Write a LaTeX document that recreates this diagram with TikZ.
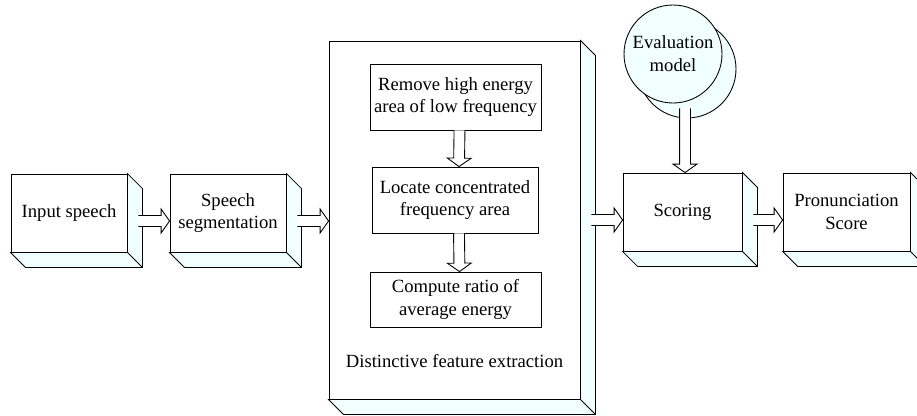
\documentclass[tikz,border=0pt]{standalone}
\usepackage{fontspec}
\setmainfont{Liberation Serif}
\usetikzlibrary{calc}
\definecolor{facecol}{HTML}{F2FFFF}
\tikzset{
    block/.style={draw, fill=white, align=center, inner sep=0pt, line width=.5pt},
    % open block arrow: two rails and a chevron head
    hollow/.style={line width=.5pt, fill=white, to path={
        let \p1=($(\tikztotarget)-(\tikztostart)$), \n1={atan2(\y1,\x1)}, \n2={veclen(\x1,\y1)} in
        (\tikztostart) ++(\n1+90:3.1pt) -- ++(\n1:\n2-4.8pt) -- ++(\n1+90:3.7pt) -- (\tikztotarget)
        -- ($(\tikztotarget)+(\n1+180:4.8pt)+(\n1-90:6.8pt)$) -- ++(\n1+90:3.7pt)
        -- ($(\tikztostart)+(\n1-90:3.1pt)$)}}
}
\begin{document}
\begin{tikzpicture}[font=\fontsize{10.6}{13}\selectfont]
        \useasboundingbox (0,0) rectangle (18.34,8.3);
        % front faces
        \node[block, minimum width=2.32cm, minimum height=1.56cm] (in) at (1.38,4.04) {Input speech};
        \node[block, minimum width=2.32cm, minimum height=1.56cm] (seg) at (4.56,4.04) {Speech\\segmentation};
        \node[block, minimum width=5.02cm, minimum height=7.16cm] (dfe) at (9.09,3.90) {};
        \node[block, minimum width=2.38cm, minimum height=1.56cm] (score) at (13.65,4.06) {Scoring};
        \node[block, minimum width=2.54cm, minimum height=1.56cm] (pron) at (16.93,4.06) {Pronunciation\\Score};
        % side and bottom faces
        \def\d{0.3}
        \foreach \n in {in,seg,dfe,score,pron} {
            \filldraw[fill=facecol, line width=.5pt] (\n.north east) -- ++(\d,-\d) |- ([shift={(\d,-\d)}]\n.south west) -- (\n.south west) -- (\n.south east) -- cycle;
            \draw[line width=.5pt] (\n.south east) -- ++(\d,-\d);
        }
        % steps inside the extraction block
        \node[block, minimum width=3.42cm, minimum height=1.32cm] (remove) at (9.11,6.36) {Remove high energy\\area of low frequency};
        \node[block, minimum width=3.32cm, minimum height=1.32cm] (locate) at (9.10,4.30) {Locate concentrated\\frequency area};
        \node[block, minimum width=3.42cm, minimum height=1.10cm] (ratio) at (9.11,2.31) {Compute ratio of\\average energy};
        \node (dfelabel) at (9.09,1.08) {Distinctive feature extraction};
        \draw[hollow] ([xshift=.08cm]remove.south) to ([xshift=.08cm]locate.north);
        \draw[hollow] ([xshift=.08cm]locate.south) to ([xshift=.08cm]ratio.north);
        % model
        \node[circle, draw, fill=facecol, line width=.5pt, minimum size=1.96cm] (evalback) at (13.74,6.92) {};
        \node[circle, draw, fill=facecol, line width=.5pt, minimum size=1.96cm, align=center, inner sep=0pt] (eval) at (13.46,7.22) {Evaluation\\model};
        \draw[hollow] ($(score.north |- eval.south)+(.05,-.1)$) to ([xshift=.05cm]score.north);
        % main flow
        \draw[hollow] ([xshift=.22cm,yshift=-.16cm]in.east) to ([yshift=-.16cm]in.east -| seg.west);
        \draw[hollow] ([xshift=.22cm,yshift=-.16cm]seg.east) to ([yshift=-.16cm]seg.east -| dfe.west);
        \draw[hollow] ([xshift=.22cm,yshift=-.16cm]dfe.east |- score.east) to ([yshift=-.16cm]score.west);
        \draw[hollow] ([xshift=.22cm,yshift=-.16cm]score.east) to ([yshift=-.16cm]pron.west);
\end{tikzpicture}
\end{document}
